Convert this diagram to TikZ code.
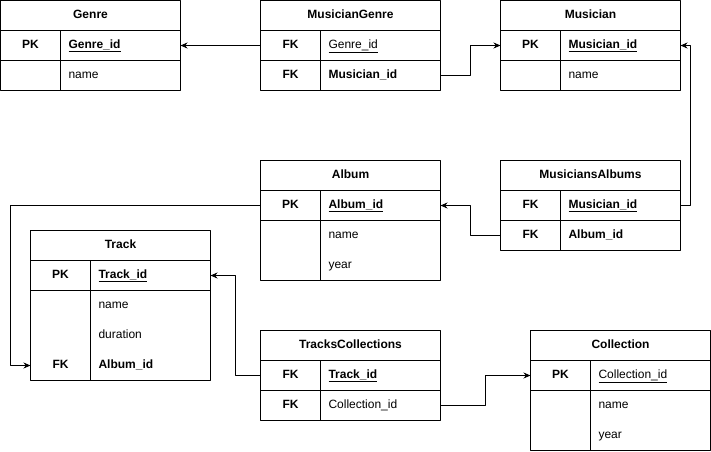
\documentclass[tikz,border=0pt]{standalone}
\usepackage{fontspec}
\setmainfont{Liberation Sans}
\usetikzlibrary{arrows.meta}
\newcommand{\erfont}{\fontsize{12}{14}\selectfont}
\tikzset{
  ttl/.style={anchor=north west, minimum width=180pt, minimum height=30pt, inner sep=0pt, outer sep=0pt, font=\erfont\bfseries},
  key/.style={anchor=north west, minimum width=60pt, minimum height=30pt, inner sep=0pt, outer sep=0pt, font=\erfont\bfseries},
  fld/.style={anchor=north west, minimum height=30pt, text width=104pt, inner xsep=8pt, inner ysep=0pt, outer sep=0pt, align=left, font=\erfont},
}
\newcommand{\pkey}[1]{\textbf{\underline{#1}}}
\newcommand{\fkey}[1]{\underline{#1}}
\begin{document}
\begin{tikzpicture}[x=1pt, y=1pt, line width=1pt, line join=round, >={Stealth[length=7pt,width=6pt]}, text height=9pt, text depth=3pt]
\useasboundingbox (-0.5,0.5) rectangle (710.5,-450.5);
% table heads
\foreach \t/\x/\y/\name in {gen/0/0/Genre, mg/260/0/MusicianGenre, mus/500/0/Musician, alb/260/-160/Album, ma/500/-160/MusiciansAlbums, trk/30/-230/Track, tc/260/-330/TracksCollections, col/530/-330/Collection}
  \node[ttl] (\t) at (\x,\y) {\name};
% rows
\foreach \t/\r/\k/\f in {gen/1/PK/\pkey{Genre\_id}, gen/2//name,
  mg/1/FK/\fkey{Genre\_id}, mg/2/FK/\textbf{Musician\_id},
  mus/1/PK/\pkey{Musician\_id}, mus/2//name,
  alb/1/PK/\pkey{Album\_id}, alb/2//name, alb/3//year,
  ma/1/FK/\pkey{Musician\_id}, ma/2/FK/\textbf{Album\_id},
  trk/1/PK/\pkey{Track\_id}, trk/2//name, trk/3//duration, trk/4/FK/\textbf{Album\_id},
  tc/1/FK/\pkey{Track\_id}, tc/2/FK/Collection\_id,
  col/1/PK/\fkey{Collection\_id}, col/2//name, col/3//year}
{
  \pgfmathsetmacro\dy{30*(\r-1)}
  \node[key] (\t-k\r) at ([yshift=-\dy pt]\t.south west) {\k};
  \node[fld] (\t-f\r) at (\t-k\r.north east) {\f};
}
% frames
\foreach \t/\n in {gen/2, mg/2, mus/2, alb/3, ma/2, trk/4, tc/2, col/3} {
  \draw (\t.north west) rectangle (\t-f\n.south east);
  \draw (\t.south west) -- (\t.south east);
  \draw (\t-k1.south west) -- (\t-f1.south east);
  \draw (\t-k1.north east) -- (\t-k\n.south east);
}
% links
\draw[->] (mg-k1.west) -- (gen-f1.east);
\draw[->] (mg-f2.east) -- ++(30,0) |- (mus-k1.west);
\draw[->] (ma-f1.east) -- ++(10,0) |- (mus-f1.east);
\draw[->] (ma-k2.west) -- ++(-30,0) |- (alb-f1.east);
\draw[->] (alb-k1.west) -- ++(-250,0) |- (trk-k4.west);
\draw[->] (tc-k1.west) -- ++(-25,0) |- (trk-f1.east);
\draw[->] (tc-f2.east) -- ++(45,0) |- (col-k1.west);
\end{tikzpicture}
\end{document}
